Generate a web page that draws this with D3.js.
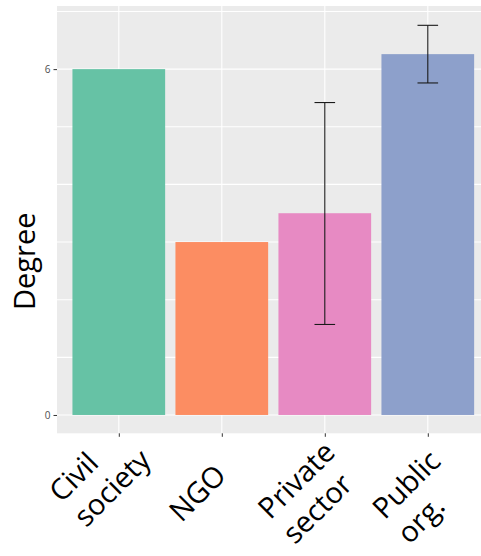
<!DOCTYPE html>
<html><head><meta charset="utf-8">
<script src="https://cdn.jsdelivr.net/npm/d3@7"></script>
<style>body{margin:0;background:#fff}svg{display:block}</style>
</head><body>
<svg id="chart" width="481" height="556"></svg>
<script>
const categories = ["Civil society", "NGO", "Private sector", "Public org."];
const labelLines = [["Civil", "society"], ["NGO"], ["Private", "sector"], ["Public", "org."]];
const values = [6.0, 3.0, 3.5, 6.26];
const errLow = [null, null, 1.57, 5.76];
const errHigh = [null, null, 5.42, 6.76];
const colors = ["#66c2a5", "#fc8d62", "#e78ac3", "#8da0cb"];
const yTicks = [0, 6];
const yGrid = [0, 1, 2, 3, 4, 5, 6, 7];
const yTitle = "Degree";

// layout only: per-label start offsets (along text, across text) relative to tick
const labelOffsetU = [-88, -90, -98, -90];
const labelOffsetV = [7, 33, 21, 29];

const svg = d3.select("#chart");
const panel = {left: 57, top: 6, right: 489.6, bottom: 433.3};

const x = d3.scalePoint().domain(categories).range([panel.left, panel.right]).padding(0.6);
const step = x.step();
const y = d3.scaleLinear().domain([-0.318, 7.095]).range([panel.bottom, panel.top]);

svg.append("rect").attr("x", panel.left).attr("y", panel.top)
  .attr("width", panel.right - panel.left).attr("height", panel.bottom - panel.top)
  .attr("fill", "#ebebeb");

svg.append("g").selectAll("line").data(yGrid).join("line")
  .attr("x1", panel.left).attr("x2", panel.right)
  .attr("y1", d => y(d)).attr("y2", d => y(d))
  .attr("stroke", "#fff").attr("stroke-width", 1.1);
svg.append("g").selectAll("line").data(categories).join("line")
  .attr("x1", d => x(d)).attr("x2", d => x(d))
  .attr("y1", panel.top).attr("y2", panel.bottom)
  .attr("stroke", "#fff").attr("stroke-width", 1.1);

const bw = step * 0.9;
svg.append("g").selectAll("rect").data(categories).join("rect")
  .attr("x", d => x(d) - bw / 2).attr("width", bw)
  .attr("y", (d, i) => y(values[i])).attr("height", (d, i) => y(0) - y(values[i]))
  .attr("fill", (d, i) => colors[i]);

const ew = step * 0.2;
const eg = svg.append("g").attr("stroke", "#1a1a1a").attr("stroke-width", 1.1).attr("fill", "none");
categories.forEach((c, i) => {
  if (errLow[i] == null) return;
  const cx = x(c);
  eg.append("line").attr("x1", cx).attr("x2", cx).attr("y1", y(errLow[i])).attr("y2", y(errHigh[i]));
  eg.append("line").attr("x1", cx - ew / 2).attr("x2", cx + ew / 2).attr("y1", y(errLow[i])).attr("y2", y(errLow[i]));
  eg.append("line").attr("x1", cx - ew / 2).attr("x2", cx + ew / 2).attr("y1", y(errHigh[i])).attr("y2", y(errHigh[i]));
});

// y axis
const ya = svg.append("g").attr("transform", `translate(${panel.left},0)`)
  .call(d3.axisLeft(y).tickValues(yTicks).tickSize(3.5).tickPadding(3).tickFormat(d3.format("d")));
ya.select(".domain").remove();
ya.selectAll(".tick line").attr("stroke", "#333").attr("stroke-width", 1);
ya.selectAll(".tick text").attr("fill", "#4d4d4d").style("font-family", "Open Sans, sans-serif").style("font-size", "10px");

// x axis ticks
const xa = svg.append("g").attr("transform", `translate(0,${panel.bottom})`)
  .call(d3.axisBottom(x).tickSize(3.5).tickFormat(""));
xa.select(".domain").remove();
xa.selectAll(".tick line").attr("stroke", "#333").attr("stroke-width", 1);

// x labels rotated
const lh = 35;
const lg = svg.append("g").style("font-family", "Open Sans, sans-serif").style("font-size", "29px").attr("fill", "#000");
categories.forEach((c, i) => {
  const g = lg.append("g").attr("transform", `translate(${x(c)},${panel.bottom + 3}) rotate(-45)`);
  const t = g.append("text").attr("text-anchor", "start");
  labelLines[i].forEach((ln, k) => {
    t.append("tspan").attr("x", labelOffsetU[i]).attr("y", labelOffsetV[i] + k * lh).text(ln);
  });
});

svg.append("text").attr("transform", `translate(35,${(y(0) + y(7)) / 2 + 48}) rotate(-90)`)
  .attr("text-anchor", "middle")
  .style("font-family", "Open Sans, sans-serif").style("font-size", "29px")
  .text(yTitle);
</script>
</body></html>
